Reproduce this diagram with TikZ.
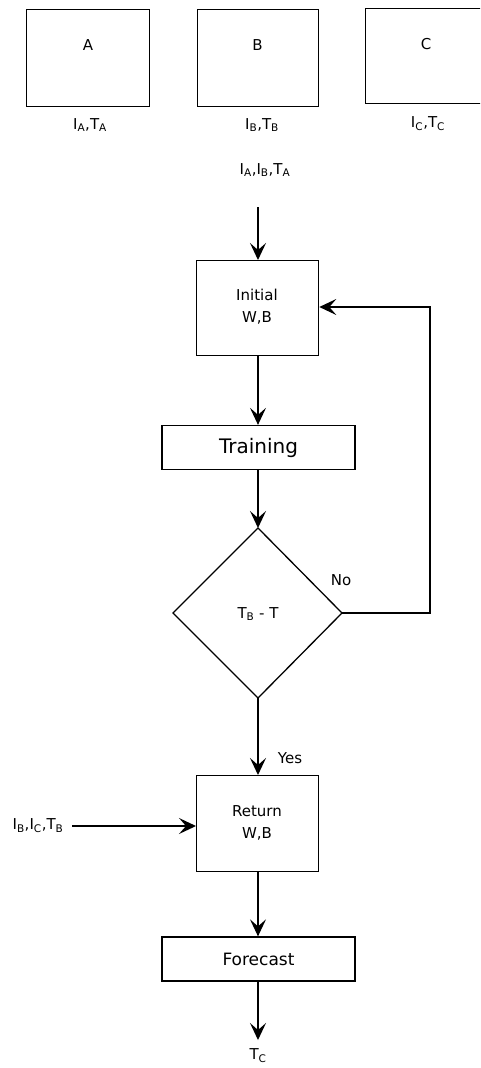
\documentclass[tikz,border=0pt]{standalone}
\usepackage{fontspec}
\setmainfont{DejaVu Sans}
\usetikzlibrary{arrows.meta}
\begin{document}
\begin{tikzpicture}[x=1pt,y=-1pt,
  box/.style={draw,line width=1.3pt,inner sep=0pt,align=center,font=\fontsize{15}{18}\selectfont},
  lbl/.style={inner sep=0pt,font=\fontsize{15}{18}\selectfont},
  flow/.style={line width=1.3pt,-{Stealth[length=17pt,width=16pt,inset=7pt]}}]
\useasboundingbox (0,0) rectangle (480,1068);
\clip (0,0) rectangle (480,1068);
% data sets
\node[box,minimum width=123pt,minimum height=97pt,anchor=north west] (A) at (26,9) {};
\node[lbl] (At) at (88,45) {A};
\node[box,minimum width=121pt,minimum height=97pt,anchor=north west] (B) at (197,9) {};
\node[lbl] (Bt) at (257.5,45) {B};
\node[box,minimum width=130pt,minimum height=95pt,anchor=north west] (C) at (365,8) {};
\node[lbl] (Ct) at (426,44) {C};
\node[lbl] (lA) at (90,125) {I\textsubscript{A},T\textsubscript{A}};
\node[lbl] (lB) at (262,125) {I\textsubscript{B},T\textsubscript{B}};
\node[lbl] (lC) at (428,124) {I\textsubscript{C},T\textsubscript{C}};
\node[lbl] (in1) at (265,170) {I\textsubscript{A},I\textsubscript{B},T\textsubscript{A}};
\coordinate (s1) at (258,207);
% flow chart
\node[box,minimum width=122pt,minimum height=95pt,anchor=north west] (init) at (196,260) {};
\node[lbl,align=center,font=\fontsize{15}{22}\selectfont] (initt) at (257,307) {Initial\\W,B};
\node[box,minimum width=193pt,minimum height=44pt,font=\fontsize{20}{22}\selectfont] (train) at (258.5,447.5) {Training};
\coordinate (dT) at (258,528);
\coordinate (dL) at (173,613);
\coordinate (dR) at (342,613);
\coordinate (dB) at (258,698);
\draw[line width=1.3pt] (dT) -- (dR) -- (dB) -- (dL) -- cycle;
\node[lbl] (cond) at (258,614) {T\textsubscript{B} - T};
\node[lbl] (no) at (341,580) {No};
\node[lbl] (yes) at (290,758) {Yes};
\node[box,minimum width=122pt,minimum height=96pt,anchor=north west] (ret) at (196,775) {};
\node[lbl,align=center,font=\fontsize{15}{22}\selectfont] (rett) at (257,823) {Return\\W,B};
\node[lbl] (in2) at (38,826) {I\textsubscript{B},I\textsubscript{C},T\textsubscript{B}};
\coordinate (in2s) at (72,826);
\node[box,minimum width=193pt,minimum height=44pt,font=\fontsize{17}{19}\selectfont] (fc) at (258.5,959) {Forecast};
\coordinate (e1) at (258,1040);
\node[lbl] (out) at (258,1056) {T\textsubscript{C}};
% connectors
\draw[flow] (s1) -- (init.north -| s1);
\draw[flow] (init.south -| s1) -- (train.north -| s1);
\draw[flow] (train.south -| s1) -- (dT);
\draw[flow] (dR) -- (430,613) -- (430,307) -- (init.east |- 0,307);
\draw[flow] (dB) -- (ret.north -| dB);
\draw[flow] (in2s) -- (ret.west |- in2s);
\draw[flow] (ret.south -| s1) -- (fc.north -| s1);
\draw[flow] (fc.south -| s1) -- (e1);
\end{tikzpicture}
\end{document}
